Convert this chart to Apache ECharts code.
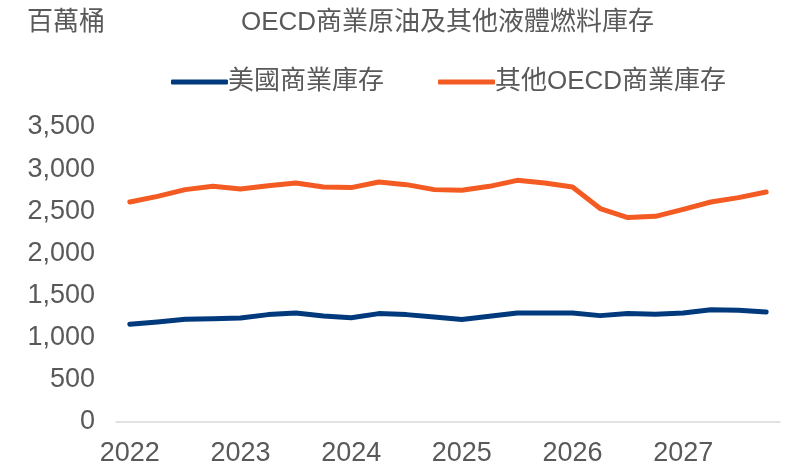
<!DOCTYPE html>
<html>
<head>
<meta charset="utf-8">
<script src="https://cdn.jsdelivr.net/npm/echarts@6/dist/echarts.min.js"></script>
<style>
  html, body { margin: 0; padding: 0; background: #fff; }
  #chart { width: 787px; height: 467px; }
</style>
</head>
<body>
<div id="chart"></div>
<script>
// quarterly, 2022Q1 .. 2027Q4
const quarters = [];
for (let y = 2022; y <= 2027; y++) {
  for (let q = 1; q <= 4; q++) quarters.push(y + 'Q' + q);
}
const usStocks = [1159, 1186, 1218, 1226, 1234, 1274, 1293, 1258, 1238, 1286, 1274, 1246,
                  1215, 1254, 1293, 1293, 1293, 1262, 1286, 1278, 1293, 1333, 1325, 1305];
const otherOecdStocks = [2610, 2677, 2757, 2796, 2765, 2804, 2836, 2788, 2781, 2847, 2816, 2757,
                         2749, 2796, 2867, 2836, 2788, 2532, 2425, 2440, 2523, 2610, 2662, 2729];

const textColor = "#595959";
const cjk = "'Liberation Sans', Arial, 'Noto Sans CJK TC', sans-serif";

var myChart = echarts.init(document.getElementById("chart"));
var option = {
  animation: false,
  textStyle: { fontFamily: cjk },
  title: [
    {
      text: "OECD商業原油及其他液體燃料庫存",
      left: 236,
      top: 5,
      textStyle: { fontSize: 26, fontWeight: "normal", color: textColor, fontFamily: cjk }
    },
    {
      text: "百萬桶",
      left: 22,
      top: 5,
      textStyle: { fontSize: 26, fontWeight: "normal", color: textColor, fontFamily: cjk }
    }
  ],
  legend: {
    left: 166,
    top: 64,
    icon: "roundRect",
    itemWidth: 57,
    itemHeight: 5,
    itemGap: 54,
    textStyle: { fontSize: 26, color: textColor, padding: [0, 0, 0, -5] },
    data: ["美國商業庫存", "其他OECD商業庫存"]
  },
  grid: {
    left: 116,
    right: 7,
    top: 127,
    bottom: 45
  },
  xAxis: {
    type: "category",
    data: quarters,
    boundaryGap: true,
    axisTick: { show: false },
    axisLine: { lineStyle: { color: "#d9d9d9", width: 1.5 } },
    axisLabel: {
      interval: 3,
      fontSize: 27,
      color: textColor,
      margin: 18,
      formatter: function (v) { return v.slice(0, 4); }
    }
  },
  yAxis: {
    type: "value",
    min: 0,
    max: 3500,
    interval: 500,
    splitLine: { show: false },
    axisLine: { show: false },
    axisTick: { show: false },
    axisLabel: {
      fontSize: 27,
      color: textColor,
      margin: 21,
      formatter: function (v) { return v.toLocaleString("en-US"); }
    }
  },
  series: [
    {
      name: "美國商業庫存",
      type: "line",
      data: usStocks,
      showSymbol: false,
      color: "#003A7D",
      lineStyle: { width: 5, color: "#003A7D", cap: "round", join: "round" }
    },
    {
      name: "其他OECD商業庫存",
      type: "line",
      data: otherOecdStocks,
      showSymbol: false,
      color: "#F45B22",
      lineStyle: { width: 5, color: "#F45B22", cap: "round", join: "round" }
    }
  ]
};
myChart.setOption(option);
</script>
</body>
</html>
